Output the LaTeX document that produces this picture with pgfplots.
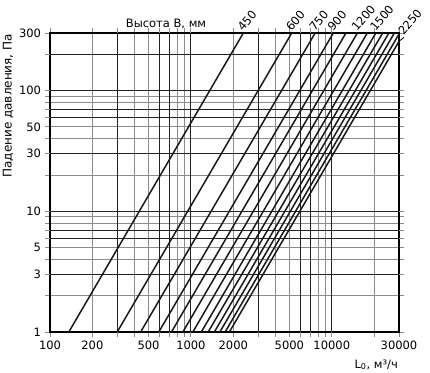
\documentclass[border=0pt]{standalone}
\usepackage{fontspec}
\setmainfont{DejaVu Sans}
\usepackage{pgfplots}
\pgfplotsset{compat=1.18}
\definecolor{gridgray}{HTML}{8C8C8C}
\definecolor{gridblack}{HTML}{222222}
\begin{document}
\fontsize{11.5}{13}\selectfont
\begin{tikzpicture}
\path[use as bounding box] (-50pt,-40pt) rectangle (380pt,332pt);
\begin{axis}[
  scale only axis, width=349pt, height=299pt,
  xmode=log, ymode=log,
  xmin=100, xmax=30000, ymin=1, ymax=300,
  clip mode=individual,
  /pgf/number format/assume math mode=true,
  ticklabel style={font=\fontsize{11.5}{13}\selectfont},
  xtick={100,200,500,1000,2000,5000,10000,30000},
  xticklabels={100,200,500,1000,2000,5000,10000,30000},
  ytick={1,3,5,10,30,50,100,300},
  yticklabels={1,3,5,10,30,50,100,300},
  minor xtick={300,400,600,700,800,900,3000,4000,6000,7000,8000,9000,20000},
  minor ytick={2,4,6,7,8,9,20,40,60,70,80,90,200},
  tick align=outside,
  major tick length=5pt, minor tick length=5pt,
  every tick/.style={gridgray, line width=0.9pt},
  grid=both,
  major grid style={gridgray, line width=0.9pt},
  minor grid style={gridgray, line width=0.9pt},
  extra x ticks={300,600,700,1000,3000,6000,7000,10000},
  extra x tick labels={},
  extra x tick style={grid=major, major grid style={gridblack, line width=0.9pt}},
  extra y ticks={3,6,7,10,30,60,70,100,200},
  extra y tick labels={},
  extra y tick style={grid=major, major grid style={gridblack, line width=0.9pt}},
  axis line style={line width=1.8pt, black},
]
\addplot[black!90, line width=1.5pt] coordinates {(136,1) (2356,300)};
\addplot[black!90, line width=1.5pt] coordinates {(300,1) (5196,300)};
\addplot[black!90, line width=1.5pt] coordinates {(440,1) (7621,300)};
\addplot[black!90, line width=1.5pt] coordinates {(592,1) (10254,300)};
\addplot[black!90, line width=1.5pt] coordinates {(728,1) (12609,300)};
\addplot[black!90, line width=1.5pt] coordinates {(877,1) (15190,300)};
\addplot[black!90, line width=1.5pt] coordinates {(1032,1) (17875,300)};
\addplot[black!90, line width=1.5pt] coordinates {(1186,1) (20542,300)};
\addplot[black!90, line width=1.5pt] coordinates {(1326,1) (22967,300)};
\addplot[black!90, line width=1.5pt] coordinates {(1468,1) (25426,300)};
\addplot[black!90, line width=1.5pt] coordinates {(1606,1) (27817,300)};
\addplot[black!90, line width=1.5pt] coordinates {(1750,1) (30311,300)};
\addplot[black!90, line width=1.5pt] coordinates {(1876,1) (32493,300)};
\node[rotate=50, anchor=south west, inner sep=0.5pt] at (axis cs:2356,300) {450};
\node[rotate=50, anchor=south west, inner sep=0.5pt] at (axis cs:5196,300) {600};
\node[rotate=50, anchor=south west, inner sep=0.5pt] at (axis cs:7621,300) {750};
\node[rotate=50, anchor=south west, inner sep=0.5pt] at (axis cs:10254,300) {900};
\node[rotate=50, anchor=south west, inner sep=0.5pt] at (axis cs:15190,300) {1200};
\node[rotate=50, anchor=south west, inner sep=0.5pt] at (axis cs:20542,300) {1500};
\draw[black, line width=0.8pt] (axis cs:30000,256) -- ++(5pt,4pt) node[rotate=50, anchor=south west, inner sep=0.5pt] {2250};
\end{axis}
\node[rotate=90, anchor=east, font=\fontsize{12}{14}\selectfont] at (-42pt,302pt) {Падение давления, Па};
\node[anchor=base] at (116pt,304pt) {Высота В, мм};
\node[anchor=base east, inner sep=0pt] at (348pt,-36pt) {L\textsubscript{0}, м³/ч};
\end{tikzpicture}
\end{document}
